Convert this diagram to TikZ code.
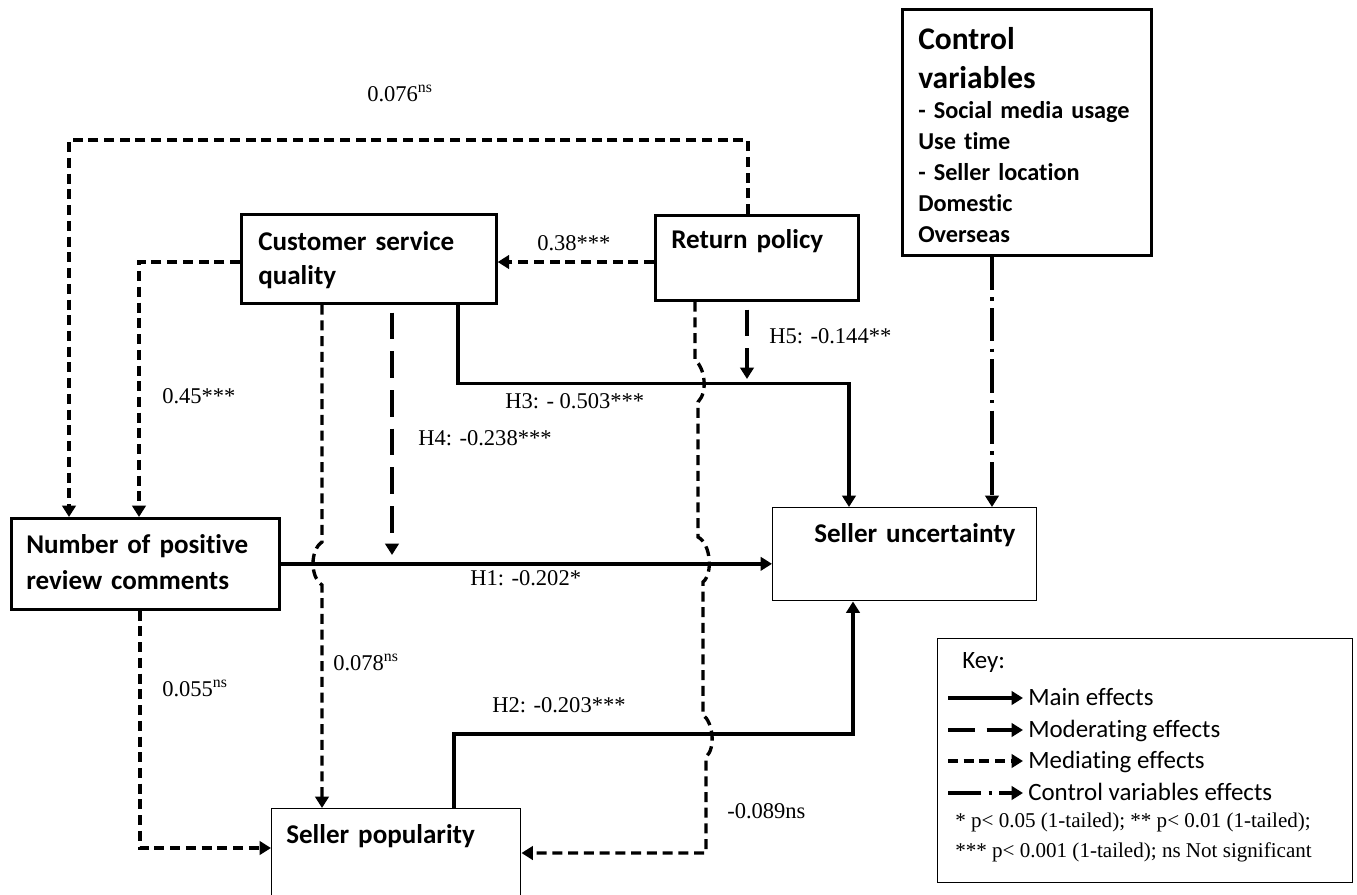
\documentclass[tikz,border=0pt]{standalone}
\usepackage{fontspec}
\setmainfont{Liberation Serif}
\newfontfamily\calibrifont[Ligatures=NoCommon]{Carlito}
\usepackage{tikz}
\usetikzlibrary{positioning}
\usetikzlibrary{calc,arrows.meta}
\tikzset{varbox/.style={draw, line width=2pt, rectangle, inner sep=0pt, anchor=north west}}
\tikzset{thinbox/.style={varbox, line width=1.1pt}}
\tikzset{boxsize/.style 2 args={minimum width=#1*0.75pt, minimum height=#2*0.75pt}}
\tikzset{boxtxt/.style={font=\calibrifont\bfseries\fontsize{20.3}{25.5}\selectfont, anchor=base west, align=left, text width=8cm, inner sep=0pt}}
\tikzset{keytxt/.style={font=\calibrifont\fontsize{18.7}{22}\selectfont, anchor=base west, inner sep=0pt}}
\tikzset{coef/.style={font=\fontsize{16.9}{20}\selectfont, anchor=base west, inner sep=0pt}}
\tikzset{mainfx/.style={line width=2.5pt, -{Triangle[length=8.5pt,width=10pt]}}}
\tikzset{modfx/.style={mainfx, dash pattern=on 20pt off 9pt}}
\tikzset{medfx/.style={mainfx, dash pattern=on 7.5pt off 4.3pt}}
\tikzset{ctrlfx/.style={mainfx, dash pattern=on 25pt off 5.5pt on 2.5pt off 5.5pt}}

\begin{document}
\begin{tikzpicture}[x=0.75pt, y=-0.75pt]
	\useasboundingbox (0,0) rectangle (1357,894);
	\clip (0,0) rectangle (1357,894);

	% boxes
	\node[varbox, boxsize={255}{89}] (csq) at (240,213) {};
	\node[varbox, boxsize={203}{85}] (rp) at (654,214) {};
	\node[varbox, boxsize={249}{246}] (ctrl) at (901,8) {};
	\node[varbox, boxsize={268}{91}] (npr) at (10,517) {};
	\node[thinbox, boxsize={264}{93}] (su) at (772,507) {};
	\node[thinbox, boxsize={249}{130}] (sp) at (271,808) {};
	\node[thinbox, boxsize={415}{244}] (key) at (937,638) {};

	\node[boxtxt] (csq-t) at (258,250) {Customer service\\quality};
	\node[boxtxt] (rp-t) at (671,248) {Return policy};
	\node[boxtxt, font=\calibrifont\bfseries\fontsize{20.3}{27.7}\selectfont] (npr-t) at (26,553) {Number of positive\\review comments};
	\node[boxtxt] (su-t) at (814,542) {Seller uncertainty};
	\node[boxtxt] (sp-t) at (286,843) {Seller popularity};
	\node[boxtxt, font=\calibrifont\bfseries\fontsize{23.6}{29.3}\selectfont] (ctrl-head) at (918,49) {Control\\variables};
	\node[boxtxt, font=\calibrifont\bfseries\fontsize{18.2}{23.3}\selectfont] (ctrl-list) at (918,118) {- Social media usage\\Use time\\- Seller location\\Domestic\\Overseas};

	% mediating paths
	\draw[medfx] ($(rp.north west)+(94,0)$) -- ++(0,-74) -| ($(npr.north west)+(59,0)$);
	\draw[medfx] ($(rp.north west)+(0,48)$) -- ($(csq.north east)+(0,49)$);
	\draw[medfx] ($(csq.north west)+(0,49)$) -| ($(npr.north west)+(129,0)$);
	\draw[medfx] ($(csq.south west)+(82,0)$) -- (322,542) .. controls (310,550) and (310,577) .. (322,585) -- ($(sp.north west)+(51,0)$);
	\draw[medfx] ($(npr.south west)+(130,0)$) |- ($(sp.north west)+(0,40)$);
	\draw[medfx] ($(rp.south west)+(41,0)$) -- (695,360) .. controls (705,368) and (708,392) .. (698,402)
		-- (698,537) .. controls (711,544) and (713,574) .. (703,582)
		-- (703,715) .. controls (713,722) and (716,748) .. (706,757)
		-- (706,853) -- ($(sp.north east)+(0,45)$);

	% main effects
	\draw[mainfx] ($(csq.south west)+(218,0)$) -- ++(0,79) -| ($(su.north west)+(77,0)$);
	\draw[mainfx] (npr.east) -- (npr.east -| su.west);
	\draw[mainfx] ($(sp.north west)+(183,0)$) -- ++(0,-74) -| ($(su.south west)+(81,0)$);

	% moderating
	\coordinate (h4tip) at (392,555);
	\coordinate (h5tip) at (747,379);
	\draw[modfx, dash phase=23pt] ($(csq.south west)+(152,0)$) -- (h4tip);
	\draw[modfx, dash phase=23pt] ($(rp.south west)+(93,0)$) -- (h5tip);

	% control
	\draw[ctrlfx] ($(ctrl.south west)+(91,0)$) -- ($(su.north west)+(220,0)$);

	% coefficients
	\node[coef] (c-076) at (367,101) {0.076\textsuperscript{ns}};
	\node[coef] (c-038) at (537,250) {0.38***};
	\node[coef] (c-045) at (162,403) {0.45***};
	\node[coef] (c-h4) at (418,445) {H4: -0.238***};
	\node[coef] (c-h3) at (505,408) {H3: - 0.503***};
	\node[coef] (c-h5) at (769,343) {H5: -0.144**};
	\node[coef] (c-h1) at (470,585) {H1: -0.202*};
	\node[coef] (c-078) at (333,670) {0.078\textsuperscript{ns}};
	\node[coef] (c-055) at (162,696) {0.055\textsuperscript{ns}};
	\node[coef] (c-h2) at (492,712) {H2: -0.203***};
	\node[coef] (c-089) at (727,818) {-0.089ns};

	% key
	\node[keytxt] (k-title) at (962,668) {Key:};
	\node[keytxt] (k-main) at (1028,705) {Main effects};
	\node[keytxt] (k-mod) at (1028,737) {Moderating effects};
	\node[keytxt] (k-med) at (1028,768) {Mediating effects};
	\node[keytxt] (k-ctrl) at (1028,800) {Control variables effects};
	\draw[mainfx] ($(k-main.base west)+(-80,-7)$) -- ($(k-main.base west)+(-5,-7)$);
	\draw[modfx] ($(k-mod.base west)+(-80,-7)$) -- ($(k-mod.base west)+(-5,-7)$);
	\draw[medfx] ($(k-med.base west)+(-80,-7)$) -- ($(k-med.base west)+(-5,-7)$);
	\draw[ctrlfx] ($(k-ctrl.base west)+(-80,-7)$) -- ($(k-ctrl.base west)+(-5,-7)$);
	\node[coef, font=\fontsize{15.8}{18}\selectfont] (k-note1) at (955,827) {* p< 0.05 (1-tailed); ** p< 0.01 (1-tailed);};
	\node[coef, font=\fontsize{15.8}{18}\selectfont] (k-note2) at (955,857) {*** p< 0.001 (1-tailed); ns Not significant};

\end{tikzpicture}
\end{document}
